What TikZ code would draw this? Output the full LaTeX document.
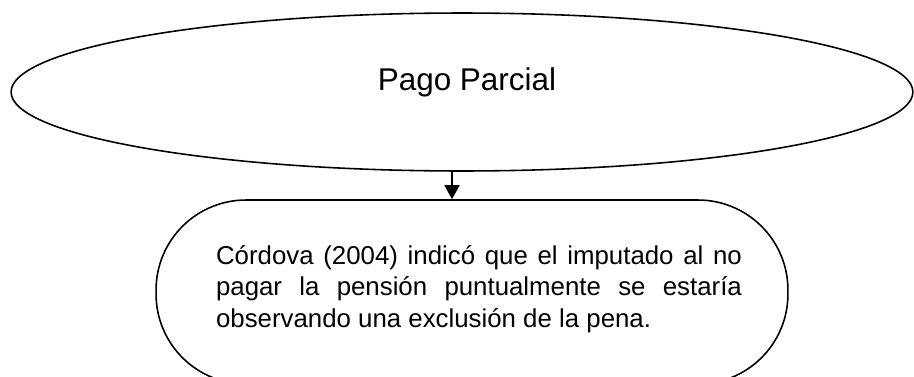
\documentclass[tikz,border=0pt]{standalone}
\usepackage{fontspec}
\setmainfont{Liberation Sans}
\usetikzlibrary{shapes.geometric,arrows.meta}

\begin{document}
\begin{tikzpicture}[x=0.02cm,y=-0.02cm,
    elipse/.style={draw,ellipse,line width=0.9pt,inner sep=0pt,
      minimum width=18.04cm,minimum height=3.16cm},
    caja/.style={draw,rectangle,rounded corners=1.8cm,line width=0.9pt,
      minimum width=12.64cm,minimum height=3.68cm,inner sep=0pt,
      font=\fontsize{14.7}{18.1}\selectfont},
    flecha/.style={-{Triangle[width=0.3cm,length=0.28cm]},line width=0.9pt}]
    \useasboundingbox (0,0) rectangle (914,376);
    % Nodes
    \node[elipse] (pago) at (462,92) {};
    \node[font=\fontsize{17.9}{21}\selectfont] (titulo) at (467,82) {Pago Parcial};
    \node[caja] (cita) at (472,292) {\hspace*{0.28cm}\parbox{10.52cm}{%
      C\'ordova (2004) indic\'o que el imputado al no\linebreak
      pagar la pensi\'on puntualmente se estar\'ia\linebreak
      observando una exclusi\'on de la pena.\par\vspace*{0.12cm}}};
    % Arrow
    \draw[flecha] ([xshift=-0.2cm]pago.south) -- ([xshift=-0.4cm]cita.north);
\end{tikzpicture}
\end{document}
